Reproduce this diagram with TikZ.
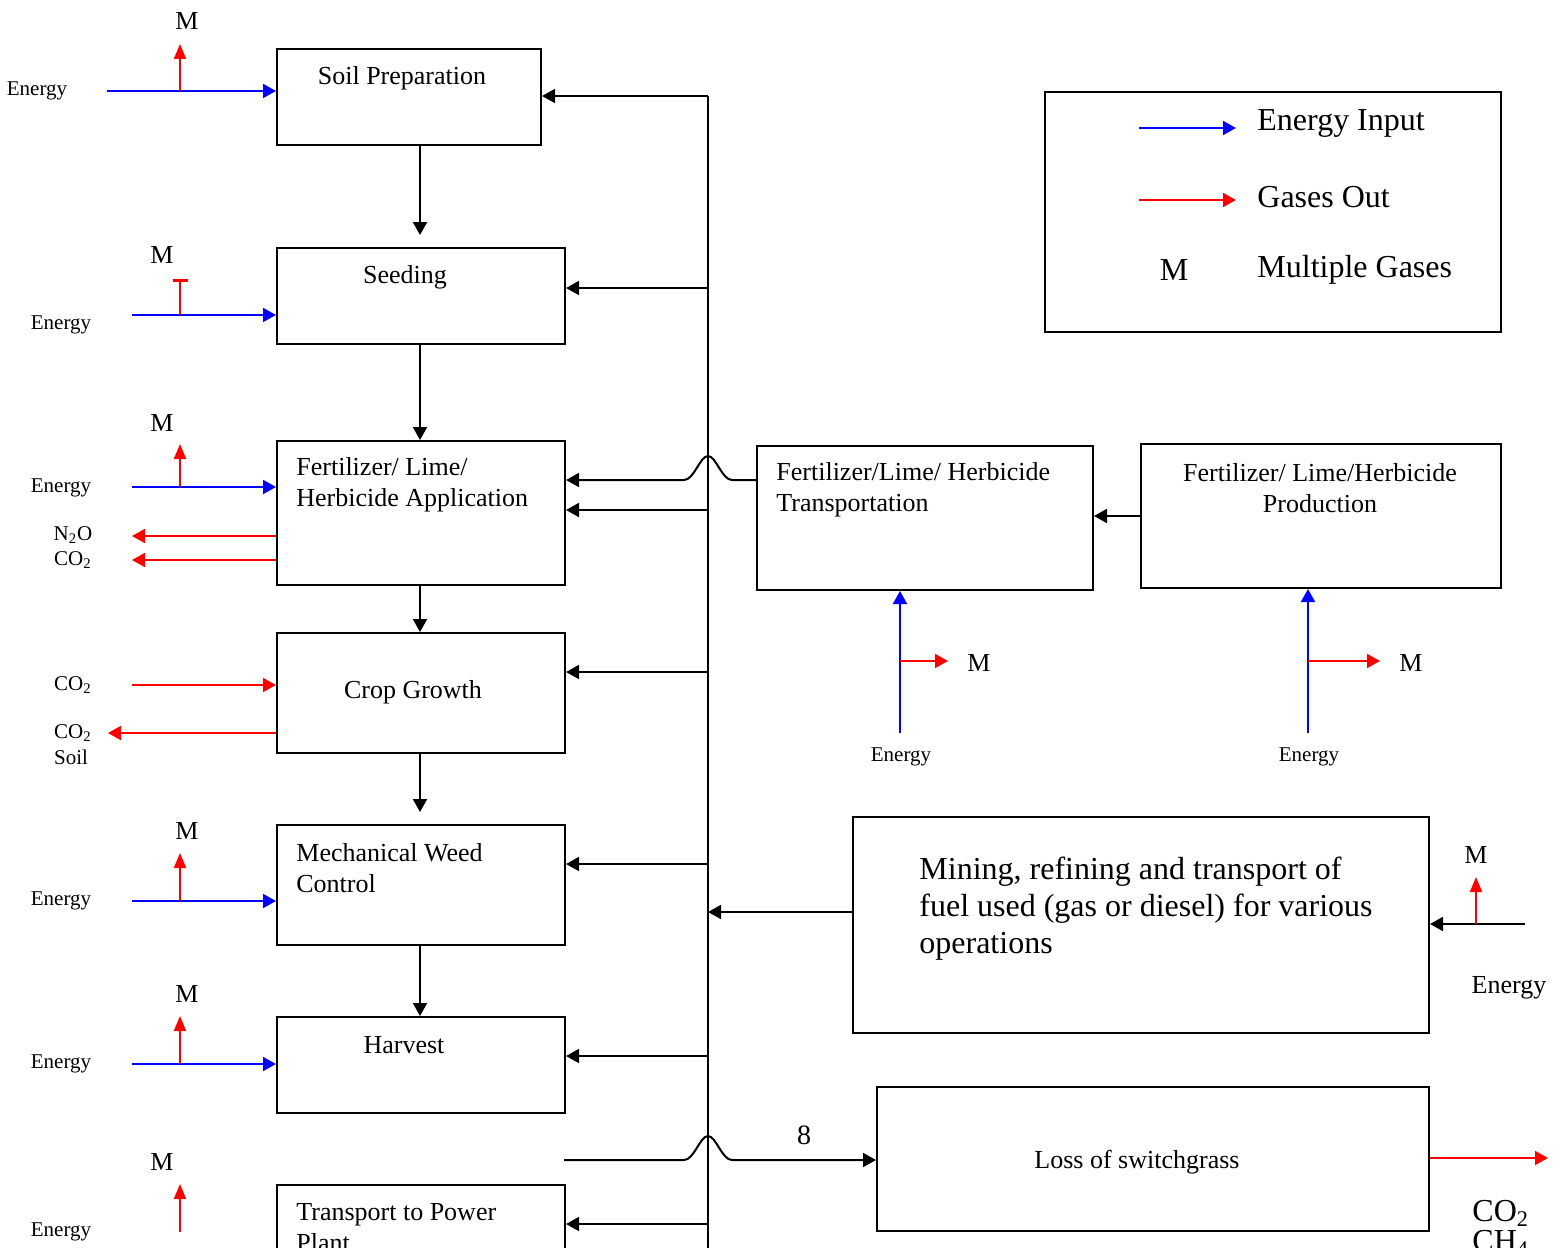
\documentclass[tikz,border=0pt]{standalone}
\usepackage{fontspec}
\setmainfont{Liberation Serif}
\usetikzlibrary{arrows.meta, calc}
\definecolor{EnergyBlue}{RGB}{0, 0, 255}
\definecolor{GasRed}{RGB}{255, 0, 0}

\begin{document}
\begin{tikzpicture}[
    % Pixel grid of the reference
    x=0.5pt, y=-0.5pt,
    % --- STYLES ---
    % Boxes: plain black frame, text set apart
    box/.style={
        draw,
        line width=1pt,
        rectangle,
        anchor=north west,
        inner sep=0pt
    },
    % Box text
    txt/.style={
        inner sep=0pt,
        align=left,
        font=\fontsize{13}{15.5}\selectfont
    },
    % Large text (legend, fuel box)
    bigtxt/.style={
        inner sep=0pt,
        align=left,
        font=\fontsize{16}{18.5}\selectfont
    },
    % Small labels (Energy, gases)
    small/.style={
        inner sep=0pt,
        align=left,
        font=\fontsize{10.5}{12.5}\selectfont
    },
    % M labels
    mlbl/.style={
        inner sep=0pt,
        font=\fontsize{13}{15}\selectfont
    },
    % Arrows
    arr/.style={
        line width=1pt,
        -{Triangle[length=6.5pt, width=7pt]}
    },
    ein/.style={arr, color=EnergyBlue},
    gout/.style={arr, color=GasRed},
    mout/.style={line width=1pt, color=GasRed, -{Triangle[length=7.5pt, width=6pt]}}
]

\useasboundingbox (0,0) rectangle (1566,1247);

% --- 1. FARM OPERATIONS (left column) ---

\node (soil) [box, minimum width=132pt, minimum height=48pt] at (276,48) {};
\node (soil-t) [txt] at (402,78) {Soil Preparation};

\node (seed) [box, minimum width=144pt, minimum height=48pt] at (276,247) {};
\node (seed-t) [txt] at (405,277) {Seeding};

\node (fert) [box, minimum width=144pt, minimum height=72pt] at (276,440) {};
\node (fert-t) [txt, anchor=west] at (296,485) {Fertilizer/ Lime/\\Herbicide Application};

\node (crop) [box, minimum width=144pt, minimum height=60pt] at (276,632) {};
\node (crop-t) [txt] at (413,692) {Crop Growth};

\node (weed) [box, minimum width=144pt, minimum height=60pt] at (276,824) {};
\node (weed-t) [txt, anchor=west] at (296,868) {Mechanical Weed\\Control};

\node (harv) [box, minimum width=144pt, minimum height=48pt] at (276,1016) {};
\node (harv-t) [txt] at (404,1045) {Harvest};

\node (tpp) [box, minimum width=144pt, minimum height=48pt] at (276,1184) {};
\node (tpp-t) [txt, anchor=west] at (296,1228) {Transport to Power\\Plant};

% --- 2. INPUT CHAIN (right side) ---

\node (ftrans) [box, minimum width=168pt, minimum height=72pt] at (756,445) {};
\node (ftrans-t) [txt, anchor=west] at (776,490) {Fertilizer/Lime/ Herbicide\\Transportation};

\node (fprod) [box, minimum width=180pt, minimum height=72pt] at (1140,443) {};
\node (fprod-t) [txt, align=center] at (1320,488) {Fertilizer/ Lime/Herbicide\\Production};

\node (mine) [box, minimum width=288pt, minimum height=108pt] at (852,816) {};
\node (mine-t) [bigtxt, anchor=west] at (919,909) {Mining, refining and transport of\\fuel used (gas or diesel) for various\\operations};

\node (loss) [box, minimum width=276pt, minimum height=72pt] at (876,1086) {};
\node (loss-t) [txt] at (1137,1162) {Loss of switchgrass};

% --- 3. LEGEND ---

\node (legend) [box, minimum width=228pt, minimum height=120pt] at (1044,91) {};
\coordinate (leg-e0) at (1139,128);
\coordinate (leg-e1) at (1236,128);
\coordinate (leg-g0) at (1139,200);
\coordinate (leg-g1) at (1236,200);
\draw [ein] (leg-e0) -- (leg-e1);
\draw [gout] (leg-g0) -- (leg-g1);
\node (leg-et) [bigtxt, anchor=west] at (1257,123) {Energy Input};
\node (leg-gt) [bigtxt, anchor=west] at (1257,197) {Gases Out};
\node (leg-m) [bigtxt] at (1174,270) {M};
\node (leg-mt) [bigtxt, anchor=west] at (1257,270) {Multiple Gases};

% --- CONNECTIONS ---

% Main sequence
\coordinate (stem) at (420,0);
\draw [arr, shorten >=6pt] (soil.south -| stem) -- (seed.north -| stem);
\draw [arr] (seed.south -| stem) -- (fert.north -| stem);
\draw [arr] (fert.south -| stem) -- (crop.north -| stem);
\draw [arr, shorten >=6pt] (crop.south -| stem) -- (weed.north -| stem);
\draw [arr] (weed.south -| stem) -- (harv.north -| stem);

% Fuel bus
\coordinate (bus-top) at (708,96);
\coordinate (bus-bot) at (708,1260);
\draw [line width=1pt] (bus-bot) -- (bus-top);
\draw [arr] (bus-top) -- (bus-top -| soil.east);
\coordinate (tap-seed) at (708,288);
\coordinate (tap-fert) at (708,510);
\coordinate (tap-crop) at (708,672);
\coordinate (tap-weed) at (708,864);
\coordinate (tap-harv) at (708,1056);
\coordinate (tap-tpp) at (708,1224);
\foreach \s in {seed, fert, crop, weed, harv, tpp}
    \draw [arr] (tap-\s) -- (tap-\s -| \s.east);
\coordinate (tap-mine) at (708,912);
\draw [arr] (tap-mine -| mine.west) -- (tap-mine);

% Input chain, hopping over the bus
\draw [arr] (fprod.west) -- (fprod.west -| ftrans.east);
\coordinate (hop-a) at (708,480);
\draw [arr] (hop-a -| ftrans.west) -- ($(hop-a)+(24,0)$)
    .. controls +(-10,0) and +(8,0) .. ($(hop-a)+(0,-24)$)
    .. controls +(-8,0) and +(10,0) .. ($(hop-a)+(-24,0)$) -- (hop-a -| fert.east);

% Loss of switchgrass
\coordinate (loss-in) at (564,1160);
\coordinate (hop-b) at (708,1160);
\draw [arr] (loss-in) -- ($(hop-b)+(-24,0)$)
    .. controls +(10,0) and +(-8,0) .. ($(hop-b)+(0,-24)$)
    .. controls +(8,0) and +(-10,0) .. ($(hop-b)+(24,0)$) -- (hop-b -| loss.west);
\node (loss-n) [mlbl, font=\fontsize{14}{16}\selectfont] at (804,1135) {8};
\coordinate (loss-out) at (1548,1158);
\draw [gout] (loss-out -| loss.east) -- (loss-out);
\node (loss-g) [bigtxt, anchor=north west, align=left, font=\fontsize{16}{15}\selectfont] at (1472,1200) {CO\textsubscript{2}\\CH\textsubscript{4}};

% --- ENERGY IN / GASES OUT (left) ---

% Soil preparation
\coordinate (soil-en) at (107,91);
\coordinate (soil-br) at (180,91);
\coordinate (soil-m) at (180,44);
\draw [ein] (soil-en) -- (soil-en -| soil.west);
\draw [mout] (soil-br) -- (soil-m);
\node (soil-ml) [mlbl] at (187,21) {M};
\node (soil-el) [small] at (37,91) {Energy};

% Seeding
\coordinate (seed-en) at (132,315);
\coordinate (seed-br) at (180,315);
\coordinate (seed-m) at (180,279);
\draw [ein] (seed-en) -- (seed-en -| seed.west);
\draw [line width=1pt, GasRed, -{Bar[width=7.5pt, line width=1.5pt]}] (seed-br) -- (seed-m);
\node (seed-ml) [mlbl] at (162,255) {M};
\node (seed-el) [small] at (61,325) {Energy};

% Fertilizer application
\coordinate (fert-en) at (132,487);
\coordinate (fert-br) at (180,487);
\coordinate (fert-m) at (180,444);
\draw [ein] (fert-en) -- (fert-en -| fert.west);
\draw [mout] (fert-br) -- (fert-m);
\node (fert-ml) [mlbl] at (162,423) {M};
\node (fert-el) [small] at (61,488) {Energy};
\coordinate (fert-n2o) at (132,536);
\coordinate (fert-co2) at (132,560);
\draw [gout] (fert-n2o -| fert.west) -- (fert-n2o);
\draw [gout] (fert-co2 -| fert.west) -- (fert-co2);
\node (fert-n2ol) [small] at (73,535) {N\textsubscript{2}O};
\node (fert-co2l) [small] at (73,560) {CO\textsubscript{2}};

% Crop growth
\coordinate (crop-in) at (132,685);
\coordinate (crop-out) at (108,733);
\draw [gout] (crop-in) -- (crop-in -| crop.west);
\draw [gout] (crop-out -| crop.west) -- (crop-out);
\node (crop-inl) [small] at (73,685) {CO\textsubscript{2}};
\node (crop-outl) [small] at (73,733) {CO\textsubscript{2}};
\node (crop-soil) [small] at (71,757) {Soil};

% Mechanical weed control
\coordinate (weed-en) at (132,901);
\coordinate (weed-br) at (180,901);
\coordinate (weed-m) at (180,853);
\draw [ein] (weed-en) -- (weed-en -| weed.west);
\draw [mout] (weed-br) -- (weed-m);
\node (weed-ml) [mlbl] at (187,831) {M};
\node (weed-el) [small] at (61,901) {Energy};

% Harvest
\coordinate (harv-en) at (132,1064);
\coordinate (harv-br) at (180,1064);
\coordinate (harv-m) at (180,1016);
\draw [ein] (harv-en) -- (harv-en -| harv.west);
\draw [mout] (harv-br) -- (harv-m);
\node (harv-ml) [mlbl] at (187,994) {M};
\node (harv-el) [small] at (61,1064) {Energy};

% Transport to power plant
\coordinate (tpp-br) at (180,1232);
\coordinate (tpp-m) at (180,1184);
\draw [mout] (tpp-br) -- (tpp-m);
\node (tpp-ml) [mlbl] at (162,1162) {M};
\node (tpp-el) [small] at (61,1232) {Energy};

% --- ENERGY IN / GASES OUT (right) ---

\coordinate (ftrans-en) at (900,733);
\coordinate (ftrans-br) at (900,661);
\coordinate (ftrans-m) at (948,661);
\draw [ein] (ftrans-en) -- (ftrans-en |- ftrans.south);
\draw [gout] (ftrans-br) -- (ftrans-m);
\node (ftrans-ml) [mlbl] at (979,663) {M};
\node (ftrans-el) [small] at (901,757) {Energy};

\coordinate (fprod-en) at (1308,733);
\coordinate (fprod-br) at (1308,661);
\coordinate (fprod-m) at (1380,661);
\draw [ein] (fprod-en) -- (fprod-en |- fprod.south);
\draw [gout] (fprod-br) -- (fprod-m);
\node (fprod-ml) [mlbl] at (1411,663) {M};
\node (fprod-el) [small] at (1309,757) {Energy};

\coordinate (mine-en) at (1525,924);
\coordinate (mine-br) at (1476,924);
\coordinate (mine-m) at (1476,877);
\draw [arr] (mine-en) -- (mine-en -| mine.east);
\draw [mout] (mine-br) -- (mine-m);
\node (mine-ml) [mlbl] at (1476,855) {M};
\node (mine-el) [txt] at (1509,988) {Energy};

\end{tikzpicture}
\end{document}
